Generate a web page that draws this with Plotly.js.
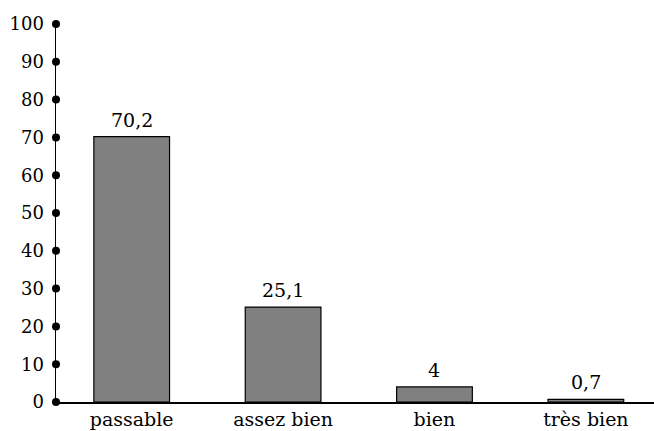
<!DOCTYPE html>
<html>
<head>
<meta charset="utf-8">
<script src="https://cdn.plot.ly/plotly-3.0.1.min.js"></script>
<style>html,body{margin:0;padding:0;background:#fff;}#chart{width:654px;height:431px;}</style>
</head>
<body>
<div id="chart"></div>
<script>
const categories = ["passable", "assez bien", "bien", "très bien"];
const values = [70.2, 25.1, 4, 0.7];
const valueLabels = ["70,2", "25,1", "4", "0,7"];
const yTicks = [0, 10, 20, 30, 40, 50, 60, 70, 80, 90, 100];

const FONT = "DejaVu Serif, serif";

const bars = {
  type: "bar",
  x: categories.map((c, i) => i),
  y: values,
  width: 0.5,
  marker: {color: "#808080", line: {color: "#000", width: 1.2}},
  hoverinfo: "skip"
};

const dots = {
  type: "scatter",
  mode: "markers",
  x: yTicks.map(() => -0.5),
  y: yTicks,
  marker: {color: "#000", size: 8},
  cliponaxis: false,
  hoverinfo: "skip"
};

const annotations = values.map((v, i) => ({
  x: i, y: v, xref: "x", yref: "y",
  text: valueLabels[i], showarrow: false,
  yanchor: "bottom", yshift: 4,
  font: {family: FONT, size: 19, color: "#000"}
}));

const layout = {
  width: 654, height: 431,
  margin: {l: 56, r: 0, t: 24, b: 29},
  paper_bgcolor: "#fff", plot_bgcolor: "#fff",
  showlegend: false,
  font: {family: FONT, color: "#000"},
  annotations: annotations,
  xaxis: {
    range: [-0.5, 3.45],
    tickmode: "array",
    tickvals: categories.map((c, i) => i),
    ticktext: categories,
    tickfont: {family: FONT, size: 19, color: "#000"},
    showgrid: false, zeroline: false,
    showline: true, linecolor: "#000", linewidth: 1.5,
    ticks: "", ticklabelstandoff: 0
  },
  yaxis: {
    range: [0, 100],
    tickmode: "array",
    tickvals: yTicks,
    ticktext: yTicks.map(String),
    tickfont: {family: FONT, size: 18, color: "#000"},
    showgrid: false, zeroline: false,
    showline: true, linecolor: "#000", linewidth: 1.5,
    ticks: "", ticklabelstandoff: 7
  }
};

Plotly.newPlot("chart", [bars, dots], layout, {displayModeBar: false, staticPlot: true});
</script>
</body>
</html>
